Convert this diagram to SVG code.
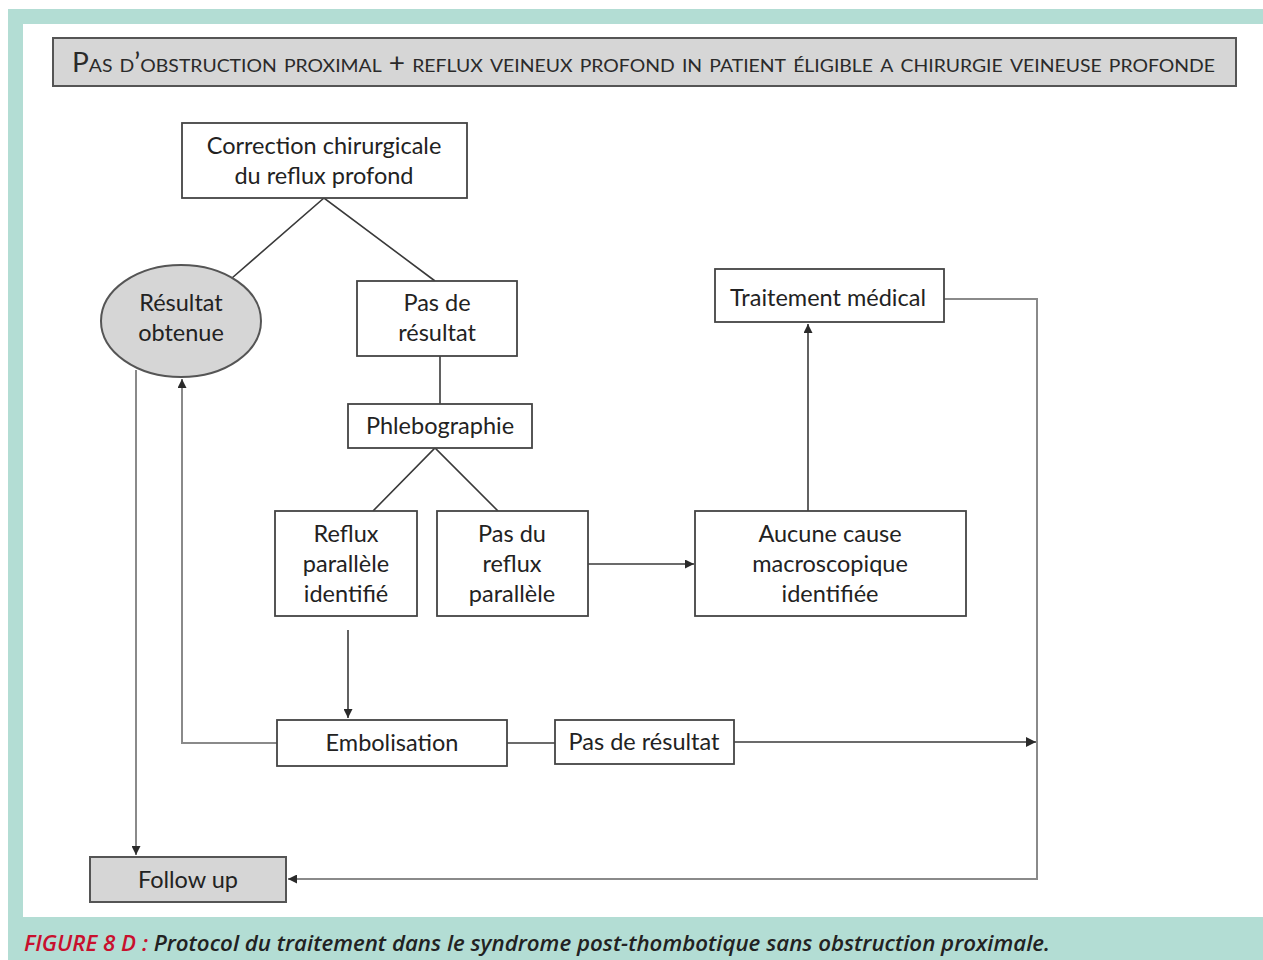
<svg xmlns="http://www.w3.org/2000/svg" width="1263" height="960" viewBox="0 0 1263 960">
<defs>
<style>
.bx{fill:#fff;stroke:#444;stroke-width:1.8}
.gr{fill:#d6d6d6;stroke:#555;stroke-width:2}
.t{font-family:Lato,"Liberation Sans",sans-serif;font-size:23.5px;fill:#222;text-anchor:middle}
.ln{fill:none;stroke:#3a3a3a;stroke-width:1.6}
.lg{fill:none;stroke:#8a8a8a;stroke-width:2}
</style>
<marker id="ah" viewBox="0 0 10 10" refX="10" refY="5" markerWidth="9" markerHeight="9" markerUnits="userSpaceOnUse" orient="auto">
<path d="M0,0 L10,5 L0,10 z" fill="#2a2a2a"/>
</marker>
<marker id="ah2" viewBox="0 0 10 10" refX="10" refY="5" markerWidth="10" markerHeight="10" markerUnits="userSpaceOnUse" orient="auto">
<path d="M0,0 L10,5 L0,10 z" fill="#2a2a2a"/>
</marker>
</defs>
<rect x="0" y="0" width="1263" height="960" fill="#fff"/>
<!-- frame -->
<rect x="8" y="9" width="1255" height="15" fill="#b3ddd4"/>
<rect x="8" y="9" width="15" height="951" fill="#b3ddd4"/>
<rect x="8" y="917" width="1255" height="43" fill="#b3ddd4"/>
<text x="24" y="951" font-family="'Open Sans',Lato,sans-serif" font-style="italic" font-weight="600" font-size="21" textLength="1026" lengthAdjust="spacingAndGlyphs"><tspan fill="#c8102e">FIGURE 8 D : </tspan><tspan fill="#222">Protocol du traitement dans le syndrome post-thombotique sans obstruction proximale.</tspan></text>

<g id="header">
<rect class="gr" x="53" y="38" width="1183" height="48" fill="#d9d9d9"/>
<text x="72" y="72" font-family="Lato,'Liberation Sans',sans-serif" font-size="26" fill="#2a2a2a" style="font-variant:small-caps" textLength="1143" lengthAdjust="spacingAndGlyphs">Pas d’obstruction proximal + reflux veineux profond in patient éligible a chirurgie veineuse profonde</text>
</g>

<g id="connectors">
<polyline class="ln" points="232,278 324,198 435,281"/>
<line class="ln" x1="440" y1="356" x2="440" y2="404"/>
<polyline class="ln" points="373,511 435,448 498,511"/>
<line class="ln" x1="588" y1="564" x2="694" y2="564" marker-end="url(#ah)"/>
<line class="ln" x1="808" y1="511" x2="808" y2="324" marker-end="url(#ah)"/>
<polyline class="lg" points="944,299 1037,299 1037,879 288,879" marker-end="url(#ah)"/>
<line class="ln" x1="348" y1="630" x2="348" y2="718" marker-end="url(#ah)"/>
<polyline class="lg" points="277,743 182,743 182,379" marker-end="url(#ah)"/>
<line class="ln" x1="507" y1="743" x2="555" y2="743"/>
<line class="ln" x1="734" y1="742" x2="1036" y2="742" marker-end="url(#ah2)"/>
<line class="lg" x1="136" y1="370" x2="136" y2="855" marker-end="url(#ah)"/>
</g>

<g id="n-correction">
<rect class="bx" x="182" y="123" width="285" height="75"/>
<text class="t" x="324" y="154">Correction chirurgicale</text>
<text class="t" x="324" y="184">du reflux profond</text>
</g>
<g id="n-resultat">
<ellipse class="gr" cx="181" cy="321" rx="80" ry="56" fill="#d9d9d9"/>
<text class="t" x="181" y="311">Résultat</text>
<text class="t" x="181" y="341">obtenue</text>
</g>
<g id="n-pasderesultat1">
<rect class="bx" x="357" y="281" width="160" height="75"/>
<text class="t" x="437" y="311">Pas de</text>
<text class="t" x="437" y="341">résultat</text>
</g>
<g id="n-phlebo">
<rect class="bx" x="348" y="404" width="184" height="44"/>
<text class="t" x="440" y="434">Phlebographie</text>
</g>
<g id="n-reflux">
<rect class="bx" x="275" y="511" width="142" height="105"/>
<text class="t" x="346" y="542">Reflux</text>
<text class="t" x="346" y="572">parallèle</text>
<text class="t" x="346" y="602">identifié</text>
</g>
<g id="n-pasdureflux">
<rect class="bx" x="437" y="511" width="151" height="105"/>
<text class="t" x="512" y="542">Pas du</text>
<text class="t" x="512" y="572">reflux</text>
<text class="t" x="512" y="602">parallèle</text>
</g>
<g id="n-aucune">
<rect class="bx" x="695" y="511" width="271" height="105"/>
<text class="t" x="830" y="542">Aucune cause</text>
<text class="t" x="830" y="572">macroscopique</text>
<text class="t" x="830" y="602">identifiée</text>
</g>
<g id="n-traitement">
<rect class="bx" x="715" y="269" width="229" height="53"/>
<text class="t" x="828" y="306">Traitement médical</text>
</g>
<g id="n-embolisation">
<rect class="bx" x="277" y="720" width="230" height="46"/>
<text class="t" x="392" y="751">Embolisation</text>
</g>
<g id="n-pasderesultat2">
<rect class="bx" x="555" y="720" width="179" height="44"/>
<text class="t" x="644" y="750">Pas de résultat</text>
</g>
<g id="n-followup">
<rect class="gr" x="90" y="857" width="196" height="45" fill="#d0d0d0"/>
<text class="t" x="188" y="888">Follow up</text>
</g>
</svg>
